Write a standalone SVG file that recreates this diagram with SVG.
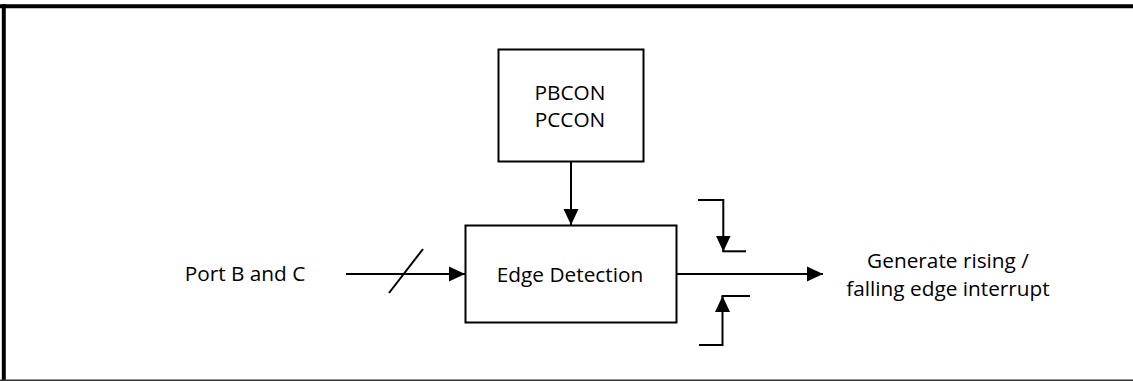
<svg xmlns="http://www.w3.org/2000/svg" width="1133" height="381" viewBox="0 0 1133 381">
<style>
.box{fill:#fff;stroke:#000;stroke-width:2}
.ln{fill:none;stroke:#000;stroke-width:2}
.t{font-family:"Open Sans","Liberation Sans",Arial,sans-serif;font-size:20.8px;fill:#000;text-anchor:middle}
</style>
<defs>
<marker id="ah" markerUnits="userSpaceOnUse" markerWidth="16" markerHeight="16" viewBox="0 0 16 16" refX="16" refY="8" orient="auto">
<path d="M0,0.5 L16,8 L0,15.5 Z" fill="#000"/>
</marker>
</defs>
<rect width="1133" height="381" fill="#fff"/>
<g id="frame">
<line x1="0" y1="6.3" x2="1133" y2="6.3" stroke="#000" stroke-width="4"/>
<line x1="3.8" y1="4.3" x2="3.8" y2="381" stroke="#000" stroke-width="4"/>
<line x1="0" y1="380.3" x2="1133" y2="380.3" stroke="#333" stroke-width="1.5"/>
</g>
<g id="pbcon">
<rect class="box" x="498.5" y="49.5" width="145" height="112"/>
<text class="t" x="570" y="100">PBCON</text>
<text class="t" x="570" y="127">PCCON</text>
</g>
<g id="edge-detection">
<rect class="box" x="465.5" y="225.5" width="211" height="97"/>
<text class="t" x="570" y="282">Edge Detection</text>
</g>
<g id="port-label">
<text class="t" x="245" y="281">Port B and C</text>
</g>
<g id="output-label">
<text class="t" x="948" y="268">Generate rising /</text>
<text class="t" x="948" y="296">falling edge interrupt</text>
</g>
<g id="connectors">
<line class="ln" x1="571" y1="161.5" x2="571" y2="225" marker-end="url(#ah)"/>
<line class="ln" x1="346" y1="274" x2="465" y2="274" marker-end="url(#ah)"/>
<line class="ln" x1="389" y1="293" x2="423" y2="249"/>
<line class="ln" x1="677" y1="274" x2="823" y2="274" marker-end="url(#ah)"/>
<polyline class="ln" points="698,200 723.3,200 723.3,251.5" marker-end="url(#ah)"/>
<line class="ln" x1="722.3" y1="251.3" x2="746" y2="251.3"/>
<polyline class="ln" points="699,345 722.5,345 722.5,296" marker-end="url(#ah)"/>
<line class="ln" x1="721.5" y1="296" x2="750" y2="296"/>
</g>
</svg>
